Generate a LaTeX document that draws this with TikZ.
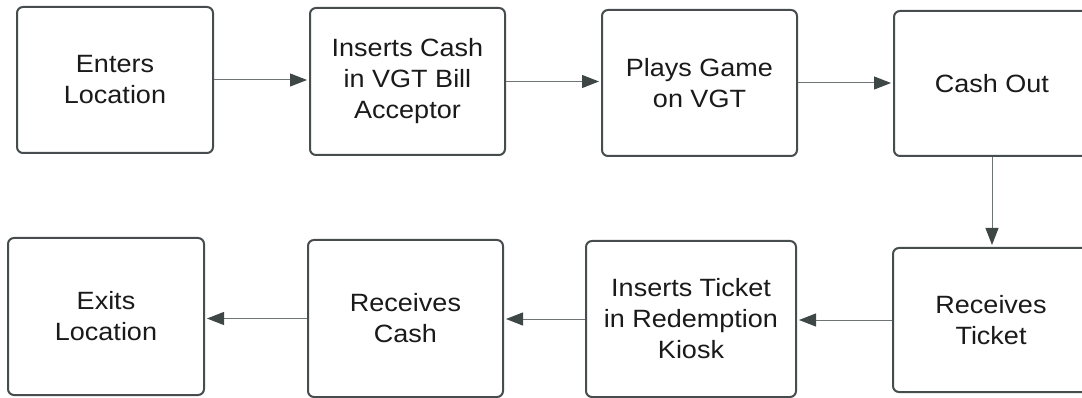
\documentclass[tikz,border=0pt]{standalone}
\usepackage{fontspec}
\setmainfont{Liberation Sans}[FakeStretch=1.08]
\usetikzlibrary{arrows.meta}
\definecolor{boxline}{HTML}{474D4E}
\definecolor{arrowline}{HTML}{6F7575}
\definecolor{tipfill}{HTML}{3E4746}
\definecolor{labeltext}{HTML}{1A1A1A}

\begin{document}
\begin{tikzpicture}[x=1pt,y=-1pt,
  stepbox/.style={draw=boxline, line width=2pt, rounded corners=6pt,
    fill=white, align=center, inner sep=0pt, text=labeltext,
    font=\fontsize{25}{31}\selectfont},
  flow/.style={draw=arrowline, line width=1pt, shorten >=2pt,
    -{Triangle[length=17pt,width=13pt,fill=tipfill,color=tipfill]}}]

\useasboundingbox (0,0) rectangle (1082,398);
\clip (0,0) rectangle (1082,398);

% top row: left to right
\node[stepbox, minimum width=196pt, minimum height=146pt] (enter)  at (115,80)    {Enters\\Location};
\node[stepbox, minimum width=195pt, minimum height=147pt] (cashin) at (407.5,81.5) {Inserts Cash\\in VGT Bill\\Acceptor};
\node[stepbox, minimum width=195pt, minimum height=146pt] (play)   at (699.5,83)  {Plays Game\\on VGT};
\node[stepbox, minimum width=196pt, minimum height=145pt] (out)    at (992,83.5)  {Cash Out};

% bottom row: right to left
\node[stepbox, minimum width=196pt, minimum height=144pt] (ticket) at (991,320)   {Receives\\Ticket};
\node[stepbox, minimum width=210pt, minimum height=156pt] (kiosk)  at (691,319)   {Inserts Ticket\\in Redemption\\Kiosk};
\node[stepbox, minimum width=195pt, minimum height=157pt] (cash)   at (405.5,318.5) {Receives\\Cash};
\node[stepbox, minimum width=196pt, minimum height=157pt] (exit)   at (106,316.5) {Exits\\Location};

% connectors
\draw[flow] (enter.east)  -- (enter.east -| cashin.west);
\draw[flow] (cashin.east) -- (cashin.east -| play.west);
\draw[flow] (play.east)   -- (play.east -| out.west);
\draw[flow] (out.south)   -- (out.south |- ticket.north);
\draw[flow] (ticket.west) -- (ticket.west -| kiosk.east);
\draw[flow] (kiosk.west)  -- (kiosk.west -| cash.east);
\draw[flow] (cash.west)   -- (cash.west -| exit.east);
\end{tikzpicture}
\end{document}
